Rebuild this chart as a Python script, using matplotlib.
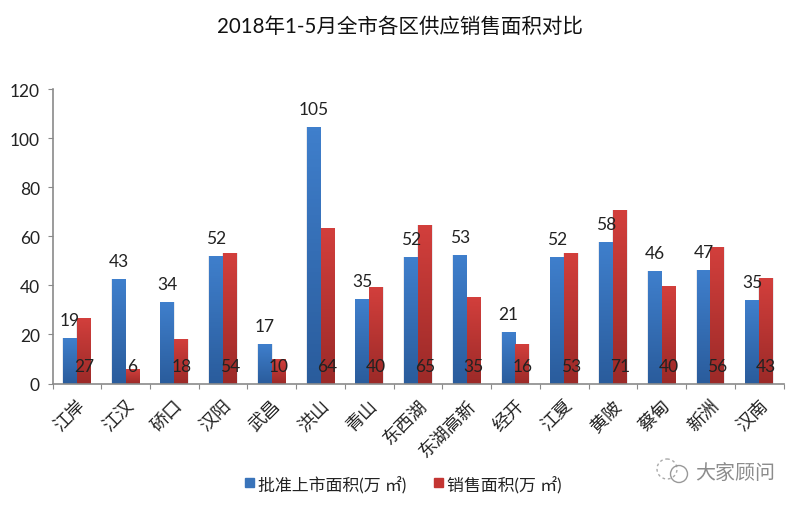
import matplotlib
matplotlib.use("Agg")
import matplotlib.pyplot as plt
from matplotlib.colors import LinearSegmentedColormap
from matplotlib.patches import Circle, Rectangle
import numpy as np

plt.rcParams['font.family'] = ['Lato', 'Noto Sans CJK SC', 'DejaVu Sans']

districts = ["江岸", "江汉", "硚口", "汉阳", "武昌", "洪山", "青山", "东西湖", "东湖高新",
             "经开", "江夏", "黄陂", "蔡甸", "新洲", "汉南"]
approved = [18.4, 42.6, 33.3, 52, 16.2, 104.6, 34.4, 51.7, 52.5, 21, 51.6, 57.6, 45.7, 46.4, 34.1]
sold = [26.8, 6, 18.1, 53.3, 9.9, 63.5, 39.5, 64.6, 35.1, 15.9, 53.1, 70.7, 39.6, 55.5, 43.1]
approved_labels = [19, 43, 34, 52, 17, 105, 35, 52, 53, 21, 52, 58, 46, 47, 35]
sold_labels = [27, 6, 18, 54, 10, 64, 40, 65, 35, 16, 53, 71, 40, 56, 43]

W, H = 800, 506
fig = plt.figure(figsize=(W / 100, H / 100), dpi=100)
ax = fig.add_axes([52.5 / W, 1 - 384.5 / H, 731 / W, 294.5 / H])

blue_map = LinearSegmentedColormap.from_list("b", ["#3f7fcc", "#2a5c9c"])
red_map = LinearSegmentedColormap.from_list("r", ["#d23f3c", "#9c2a28"])
gradient = np.linspace(0, 1, 64).reshape(-1, 1)
width = 0.285
x = np.arange(len(districts))


def gradient_bars(xs, values, cmap):
    for xi, val in zip(xs, values):
        # soft light edge round the bar, as in the original
        ax.bar(xi, val, width + 0.03, color="#d9dce3", alpha=0.6, zorder=1)
        ax.imshow(gradient, extent=(xi - width / 2, xi + width / 2, 0, val),
                  cmap=cmap, aspect="auto", origin="upper", zorder=2)


gradient_bars(x - width / 2, approved, blue_map)
gradient_bars(x + width / 2, sold, red_map)

for xi, val, lab in zip(x, approved, approved_labels):
    ax.annotate(str(lab), (xi - width / 2, val), xytext=(0, 18), textcoords="offset pixels",
                ha="center", va="center", fontsize=12.5, color="#222222", zorder=4)
for xi, lab in zip(x, sold_labels):
    ax.annotate(str(lab), (xi + width / 2, 0), xytext=(0, 17), textcoords="offset pixels",
                ha="center", va="center", fontsize=12.5, color="#222222", zorder=4)

ax.set_xlim(-0.5, len(districts) - 0.5)
ax.set_ylim(0, 120)
ax.set_yticks(range(0, 121, 20))
ax.set_xticks(np.arange(-0.5, len(districts), 1))
ax.set_xticklabels([])
ax.tick_params(axis="y", labelsize=12.5, length=3.6, color="#8a8a8a", labelcolor="#222222", pad=5.5, direction="out")
ax.tick_params(axis="x", length=3.6, color="#8a8a8a")
for side in ("top", "right"):
    ax.spines[side].set_visible(False)
for side in ("left", "bottom"):
    ax.spines[side].set_color("#8a8a8a")
    ax.spines[side].set_linewidth(1.2)

for xi, name in zip(x, districts):
    ax.annotate(name, (xi, 0), xytext=(0, -13), textcoords="offset pixels", rotation=45,
                rotation_mode="anchor", ha="right", va="top", fontsize=13, color="#222222",
                annotation_clip=False)

fig.text(400 / W, 1 - 27 / H, "2018年1-5月全市各区供应销售面积对比", ha="center", va="center",
         fontsize=14.8, color="#111111")

# legend
fig.add_artist(Rectangle((245 / W, 1 - 488 / H), 9 / W, 9 / H, color="#3a74ba", transform=fig.transFigure))
fig.text(258 / W, 1 - 486 / H, "批准上市面积(万 ㎡)", va="center", fontsize=12.2, color="#222222")
fig.add_artist(Rectangle((434 / W, 1 - 488 / H), 9 / W, 9 / H, color="#c43633", transform=fig.transFigure))
fig.text(447 / W, 1 - 486 / H, "销售面积(万 ㎡)", va="center", fontsize=12.2, color="#222222")

# watermark
wm = fig.add_axes([0, 0, 1, 1], facecolor="none")
wm.set_xlim(0, W)
wm.set_ylim(H, 0)
wm.axis("off")
wm.add_patch(Circle((667, 470), 10, fill=False, ec="#aaaaaa", lw=1, ls=(0, (2, 2))))
wm.add_patch(Circle((679, 475), 8.5, fill=False, ec="#999999", lw=1))
wm.text(695, 472, "大家顾问", va="center", fontsize=14.4, color="#8c8c8c")

fig.savefig("out.png", dpi=100)
